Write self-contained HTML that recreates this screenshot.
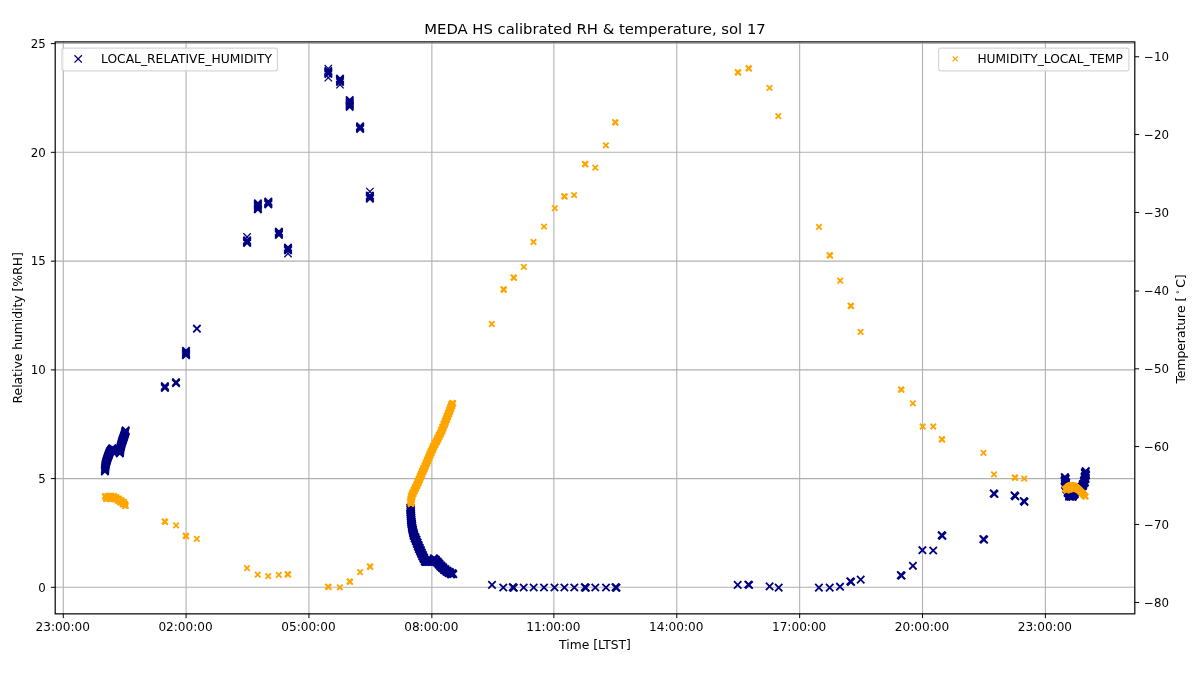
<!DOCTYPE html>
<html lang="en">
<head>
<meta charset="utf-8">
<title>MEDA HS calibrated RH &amp; temperature, sol 17</title>
<style>
html,body{margin:0;padding:0;background:#fff;}
body{width:1200px;height:675px;overflow:hidden;}
svg{display:block;}
.t{font-family:"DejaVu Sans","Liberation Sans",sans-serif;font-size:12.33px;fill:#000;}
.k{font-family:"DejaVu Sans","Liberation Sans",sans-serif;font-size:11.8px;fill:#000;}
.kx{font-size:12.1px;}
.tt{font-family:"DejaVu Sans","Liberation Sans",sans-serif;font-size:14.80px;fill:#000;}
</style>
</head>
<body>
<svg width="1200" height="675" viewBox="0 0 1200 675">
<rect width="1200" height="675" fill="#fff"/>
<path d="M63.27 41.90V613.85M186.08 41.90V613.85M308.93 41.90V613.85M431.86 41.90V613.85M553.86 41.90V613.85M676.77 41.90V613.85M799.66 41.90V613.85M922.53 41.90V613.85M1045.39 41.90V613.85M55.20 587.32H1134.80M55.20 478.60H1134.80M55.20 369.91H1134.80M55.20 261.16H1134.80M55.20 152.32H1134.80M55.20 43.57H1134.80" stroke="#b0b0b0" stroke-width="1.08" fill="none"/>
<path d="M63.27 613.85v4.32M186.08 613.85v4.32M308.93 613.85v4.32M431.86 613.85v4.32M553.86 613.85v4.32M676.77 613.85v4.32M799.66 613.85v4.32M922.53 613.85v4.32M1045.39 613.85v4.32M55.20 587.32h-4.32M55.20 478.60h-4.32M55.20 369.91h-4.32M55.20 261.16h-4.32M55.20 152.32h-4.32M55.20 43.57h-4.32M1134.80 56.76h4.32M1134.80 134.54h4.32M1134.80 212.44h4.32M1134.80 291.02h4.32M1134.80 368.84h4.32M1134.80 446.58h4.32M1134.80 524.44h4.32M1134.80 602.44h4.32" stroke="#000" stroke-width="1.0" fill="none"/>
<g stroke="#000080" stroke-width="1.25" fill="none">
<path d="M243.40 233.30l7.40 7.40m-7.40 0l7.40 -7.40"/>
<path d="M284.30 249.90l7.40 7.40m-7.40 0l7.40 -7.40"/>
<path d="M324.60 65.00l7.40 7.40m-7.40 0l7.40 -7.40"/>
<path d="M324.60 74.00l7.40 7.40m-7.40 0l7.40 -7.40"/>
<path d="M336.30 81.00l7.40 7.40m-7.40 0l7.40 -7.40"/>
<path d="M366.20 187.90l7.40 7.40m-7.40 0l7.40 -7.40"/>
</g>
<g stroke="#000080" stroke-width="1.80" fill="none">
<path d="M101.20 467.70l7.40 7.40m-7.40 0l7.40 -7.40"/>
<path d="M101.28 466.92l7.40 7.40m-7.40 0l7.40 -7.40"/>
<path d="M101.36 466.14l7.40 7.40m-7.40 0l7.40 -7.40"/>
<path d="M101.43 465.37l7.40 7.40m-7.40 0l7.40 -7.40"/>
<path d="M101.51 464.59l7.40 7.40m-7.40 0l7.40 -7.40"/>
<path d="M101.59 463.81l7.40 7.40m-7.40 0l7.40 -7.40"/>
<path d="M101.67 463.03l7.40 7.40m-7.40 0l7.40 -7.40"/>
<path d="M101.74 462.26l7.40 7.40m-7.40 0l7.40 -7.40"/>
<path d="M101.82 461.48l7.40 7.40m-7.40 0l7.40 -7.40"/>
<path d="M101.90 460.70l7.40 7.40m-7.40 0l7.40 -7.40"/>
<path d="M102.13 459.88l7.40 7.40m-7.40 0l7.40 -7.40"/>
<path d="M102.37 459.07l7.40 7.40m-7.40 0l7.40 -7.40"/>
<path d="M102.60 458.25l7.40 7.40m-7.40 0l7.40 -7.40"/>
<path d="M102.83 457.43l7.40 7.40m-7.40 0l7.40 -7.40"/>
<path d="M103.07 456.62l7.40 7.40m-7.40 0l7.40 -7.40"/>
<path d="M103.30 455.80l7.40 7.40m-7.40 0l7.40 -7.40"/>
<path d="M103.58 455.02l7.40 7.40m-7.40 0l7.40 -7.40"/>
<path d="M103.86 454.24l7.40 7.40m-7.40 0l7.40 -7.40"/>
<path d="M104.14 453.46l7.40 7.40m-7.40 0l7.40 -7.40"/>
<path d="M104.42 452.68l7.40 7.40m-7.40 0l7.40 -7.40"/>
<path d="M104.70 451.90l7.40 7.40m-7.40 0l7.40 -7.40"/>
<path d="M105.00 451.13l7.40 7.40m-7.40 0l7.40 -7.40"/>
<path d="M105.30 450.37l7.40 7.40m-7.40 0l7.40 -7.40"/>
<path d="M105.60 449.60l7.40 7.40m-7.40 0l7.40 -7.40"/>
<path d="M105.90 448.83l7.40 7.40m-7.40 0l7.40 -7.40"/>
<path d="M106.20 448.07l7.40 7.40m-7.40 0l7.40 -7.40"/>
<path d="M106.50 447.30l7.40 7.40m-7.40 0l7.40 -7.40"/>
<path d="M107.03 446.63l7.40 7.40m-7.40 0l7.40 -7.40"/>
<path d="M107.55 445.95l7.40 7.40m-7.40 0l7.40 -7.40"/>
<path d="M108.08 445.28l7.40 7.40m-7.40 0l7.40 -7.40"/>
<path d="M108.60 444.60l7.40 7.40m-7.40 0l7.40 -7.40"/>
<path d="M116.10 449.70l7.40 7.40m-7.40 0l7.40 -7.40"/>
<path d="M116.19 448.93l7.40 7.40m-7.40 0l7.40 -7.40"/>
<path d="M116.27 448.16l7.40 7.40m-7.40 0l7.40 -7.40"/>
<path d="M116.36 447.39l7.40 7.40m-7.40 0l7.40 -7.40"/>
<path d="M116.44 446.61l7.40 7.40m-7.40 0l7.40 -7.40"/>
<path d="M116.53 445.84l7.40 7.40m-7.40 0l7.40 -7.40"/>
<path d="M116.61 445.07l7.40 7.40m-7.40 0l7.40 -7.40"/>
<path d="M116.70 444.30l7.40 7.40m-7.40 0l7.40 -7.40"/>
<path d="M116.90 443.55l7.40 7.40m-7.40 0l7.40 -7.40"/>
<path d="M117.10 442.80l7.40 7.40m-7.40 0l7.40 -7.40"/>
<path d="M117.30 442.05l7.40 7.40m-7.40 0l7.40 -7.40"/>
<path d="M117.50 441.30l7.40 7.40m-7.40 0l7.40 -7.40"/>
<path d="M117.70 440.55l7.40 7.40m-7.40 0l7.40 -7.40"/>
<path d="M117.90 439.80l7.40 7.40m-7.40 0l7.40 -7.40"/>
<path d="M118.10 439.05l7.40 7.40m-7.40 0l7.40 -7.40"/>
<path d="M118.30 438.30l7.40 7.40m-7.40 0l7.40 -7.40"/>
<path d="M118.55 437.60l7.40 7.40m-7.40 0l7.40 -7.40"/>
<path d="M118.80 436.90l7.40 7.40m-7.40 0l7.40 -7.40"/>
<path d="M119.05 436.20l7.40 7.40m-7.40 0l7.40 -7.40"/>
<path d="M119.30 435.50l7.40 7.40m-7.40 0l7.40 -7.40"/>
<path d="M119.55 434.80l7.40 7.40m-7.40 0l7.40 -7.40"/>
<path d="M119.80 434.10l7.40 7.40m-7.40 0l7.40 -7.40"/>
<path d="M120.06 433.34l7.40 7.40m-7.40 0l7.40 -7.40"/>
<path d="M120.32 432.58l7.40 7.40m-7.40 0l7.40 -7.40"/>
<path d="M120.58 431.82l7.40 7.40m-7.40 0l7.40 -7.40"/>
<path d="M120.84 431.06l7.40 7.40m-7.40 0l7.40 -7.40"/>
<path d="M121.10 430.30l7.40 7.40m-7.40 0l7.40 -7.40"/>
<path d="M121.28 429.58l7.40 7.40m-7.40 0l7.40 -7.40"/>
<path d="M121.46 428.86l7.40 7.40m-7.40 0l7.40 -7.40"/>
<path d="M121.64 428.14l7.40 7.40m-7.40 0l7.40 -7.40"/>
<path d="M121.82 427.42l7.40 7.40m-7.40 0l7.40 -7.40"/>
<path d="M122.00 426.70l7.40 7.40m-7.40 0l7.40 -7.40"/>
<path d="M108.60 444.80l7.40 7.40m-7.40 0l7.40 -7.40"/>
<path d="M109.53 445.30l7.40 7.40m-7.40 0l7.40 -7.40"/>
<path d="M110.45 445.80l7.40 7.40m-7.40 0l7.40 -7.40"/>
<path d="M111.38 446.30l7.40 7.40m-7.40 0l7.40 -7.40"/>
<path d="M112.30 446.80l7.40 7.40m-7.40 0l7.40 -7.40"/>
<path d="M113.25 447.18l7.40 7.40m-7.40 0l7.40 -7.40"/>
<path d="M114.20 447.55l7.40 7.40m-7.40 0l7.40 -7.40"/>
<path d="M115.15 447.93l7.40 7.40m-7.40 0l7.40 -7.40"/>
<path d="M116.10 448.30l7.40 7.40m-7.40 0l7.40 -7.40"/>
<path d="M161.20 382.50l7.40 7.40m-7.40 0l7.40 -7.40"/>
<path d="M161.20 383.40l7.40 7.40m-7.40 0l7.40 -7.40"/>
<path d="M161.20 384.30l7.40 7.40m-7.40 0l7.40 -7.40"/>
<path d="M172.30 378.50l7.40 7.40m-7.40 0l7.40 -7.40"/>
<path d="M172.30 379.50l7.40 7.40m-7.40 0l7.40 -7.40"/>
<path d="M182.30 347.10l7.40 7.40m-7.40 0l7.40 -7.40"/>
<path d="M182.30 348.30l7.40 7.40m-7.40 0l7.40 -7.40"/>
<path d="M182.30 349.50l7.40 7.40m-7.40 0l7.40 -7.40"/>
<path d="M182.30 350.70l7.40 7.40m-7.40 0l7.40 -7.40"/>
<path d="M182.30 351.50l7.40 7.40m-7.40 0l7.40 -7.40"/>
<path d="M193.20 325.00l7.40 7.40m-7.40 0l7.40 -7.40"/>
<path d="M243.40 236.60l7.40 7.40m-7.40 0l7.40 -7.40"/>
<path d="M243.40 237.50l7.40 7.40m-7.40 0l7.40 -7.40"/>
<path d="M243.40 238.40l7.40 7.40m-7.40 0l7.40 -7.40"/>
<path d="M243.40 239.30l7.40 7.40m-7.40 0l7.40 -7.40"/>
<path d="M254.20 199.60l7.40 7.40m-7.40 0l7.40 -7.40"/>
<path d="M254.20 200.80l7.40 7.40m-7.40 0l7.40 -7.40"/>
<path d="M254.20 202.00l7.40 7.40m-7.40 0l7.40 -7.40"/>
<path d="M254.20 203.20l7.40 7.40m-7.40 0l7.40 -7.40"/>
<path d="M254.20 204.40l7.40 7.40m-7.40 0l7.40 -7.40"/>
<path d="M254.20 205.60l7.40 7.40m-7.40 0l7.40 -7.40"/>
<path d="M264.60 197.80l7.40 7.40m-7.40 0l7.40 -7.40"/>
<path d="M264.60 198.70l7.40 7.40m-7.40 0l7.40 -7.40"/>
<path d="M264.60 199.70l7.40 7.40m-7.40 0l7.40 -7.40"/>
<path d="M264.60 200.60l7.40 7.40m-7.40 0l7.40 -7.40"/>
<path d="M275.20 228.00l7.40 7.40m-7.40 0l7.40 -7.40"/>
<path d="M275.20 229.10l7.40 7.40m-7.40 0l7.40 -7.40"/>
<path d="M275.20 230.10l7.40 7.40m-7.40 0l7.40 -7.40"/>
<path d="M275.20 231.20l7.40 7.40m-7.40 0l7.40 -7.40"/>
<path d="M284.30 243.80l7.40 7.40m-7.40 0l7.40 -7.40"/>
<path d="M284.30 244.80l7.40 7.40m-7.40 0l7.40 -7.40"/>
<path d="M284.30 245.80l7.40 7.40m-7.40 0l7.40 -7.40"/>
<path d="M284.30 246.80l7.40 7.40m-7.40 0l7.40 -7.40"/>
<path d="M324.60 67.30l7.40 7.40m-7.40 0l7.40 -7.40"/>
<path d="M324.60 68.30l7.40 7.40m-7.40 0l7.40 -7.40"/>
<path d="M324.60 69.30l7.40 7.40m-7.40 0l7.40 -7.40"/>
<path d="M324.60 70.30l7.40 7.40m-7.40 0l7.40 -7.40"/>
<path d="M336.30 75.00l7.40 7.40m-7.40 0l7.40 -7.40"/>
<path d="M336.30 76.10l7.40 7.40m-7.40 0l7.40 -7.40"/>
<path d="M336.30 77.20l7.40 7.40m-7.40 0l7.40 -7.40"/>
<path d="M336.30 78.30l7.40 7.40m-7.40 0l7.40 -7.40"/>
<path d="M346.00 96.30l7.40 7.40m-7.40 0l7.40 -7.40"/>
<path d="M346.00 97.40l7.40 7.40m-7.40 0l7.40 -7.40"/>
<path d="M346.00 98.60l7.40 7.40m-7.40 0l7.40 -7.40"/>
<path d="M346.00 99.70l7.40 7.40m-7.40 0l7.40 -7.40"/>
<path d="M346.00 100.80l7.40 7.40m-7.40 0l7.40 -7.40"/>
<path d="M346.00 102.00l7.40 7.40m-7.40 0l7.40 -7.40"/>
<path d="M346.00 103.10l7.40 7.40m-7.40 0l7.40 -7.40"/>
<path d="M356.40 122.60l7.40 7.40m-7.40 0l7.40 -7.40"/>
<path d="M356.40 123.50l7.40 7.40m-7.40 0l7.40 -7.40"/>
<path d="M356.40 124.40l7.40 7.40m-7.40 0l7.40 -7.40"/>
<path d="M356.40 125.30l7.40 7.40m-7.40 0l7.40 -7.40"/>
<path d="M366.20 191.80l7.40 7.40m-7.40 0l7.40 -7.40"/>
<path d="M366.20 192.90l7.40 7.40m-7.40 0l7.40 -7.40"/>
<path d="M366.20 194.00l7.40 7.40m-7.40 0l7.40 -7.40"/>
<path d="M366.20 195.00l7.40 7.40m-7.40 0l7.40 -7.40"/>
<path d="M406.60 503.80l7.40 7.40m-7.40 0l7.40 -7.40"/>
<path d="M406.92 504.52l7.40 7.40m-7.40 0l7.40 -7.40"/>
<path d="M407.24 505.24l7.40 7.40m-7.40 0l7.40 -7.40"/>
<path d="M406.67 505.97l7.40 7.40m-7.40 0l7.40 -7.40"/>
<path d="M406.99 506.69l7.40 7.40m-7.40 0l7.40 -7.40"/>
<path d="M407.31 507.41l7.40 7.40m-7.40 0l7.40 -7.40"/>
<path d="M406.73 508.13l7.40 7.40m-7.40 0l7.40 -7.40"/>
<path d="M407.06 508.86l7.40 7.40m-7.40 0l7.40 -7.40"/>
<path d="M407.38 509.58l7.40 7.40m-7.40 0l7.40 -7.40"/>
<path d="M406.80 510.30l7.40 7.40m-7.40 0l7.40 -7.40"/>
<path d="M407.15 511.00l7.40 7.40m-7.40 0l7.40 -7.40"/>
<path d="M407.50 511.70l7.40 7.40m-7.40 0l7.40 -7.40"/>
<path d="M406.95 512.40l7.40 7.40m-7.40 0l7.40 -7.40"/>
<path d="M407.30 513.10l7.40 7.40m-7.40 0l7.40 -7.40"/>
<path d="M407.65 513.80l7.40 7.40m-7.40 0l7.40 -7.40"/>
<path d="M407.10 514.50l7.40 7.40m-7.40 0l7.40 -7.40"/>
<path d="M407.45 515.20l7.40 7.40m-7.40 0l7.40 -7.40"/>
<path d="M407.80 515.90l7.40 7.40m-7.40 0l7.40 -7.40"/>
<path d="M407.25 516.60l7.40 7.40m-7.40 0l7.40 -7.40"/>
<path d="M407.60 517.30l7.40 7.40m-7.40 0l7.40 -7.40"/>
<path d="M408.00 518.00l7.40 7.40m-7.40 0l7.40 -7.40"/>
<path d="M407.50 518.70l7.40 7.40m-7.40 0l7.40 -7.40"/>
<path d="M407.90 519.40l7.40 7.40m-7.40 0l7.40 -7.40"/>
<path d="M408.30 520.10l7.40 7.40m-7.40 0l7.40 -7.40"/>
<path d="M407.80 520.80l7.40 7.40m-7.40 0l7.40 -7.40"/>
<path d="M408.20 521.50l7.40 7.40m-7.40 0l7.40 -7.40"/>
<path d="M408.60 522.20l7.40 7.40m-7.40 0l7.40 -7.40"/>
<path d="M408.10 522.90l7.40 7.40m-7.40 0l7.40 -7.40"/>
<path d="M408.50 523.60l7.40 7.40m-7.40 0l7.40 -7.40"/>
<path d="M408.90 524.30l7.40 7.40m-7.40 0l7.40 -7.40"/>
<path d="M408.45 525.00l7.40 7.40m-7.40 0l7.40 -7.40"/>
<path d="M408.90 525.70l7.40 7.40m-7.40 0l7.40 -7.40"/>
<path d="M409.35 526.40l7.40 7.40m-7.40 0l7.40 -7.40"/>
<path d="M408.90 527.10l7.40 7.40m-7.40 0l7.40 -7.40"/>
<path d="M409.35 527.80l7.40 7.40m-7.40 0l7.40 -7.40"/>
<path d="M409.80 528.50l7.40 7.40m-7.40 0l7.40 -7.40"/>
<path d="M409.35 529.20l7.40 7.40m-7.40 0l7.40 -7.40"/>
<path d="M409.80 529.90l7.40 7.40m-7.40 0l7.40 -7.40"/>
<path d="M410.25 530.60l7.40 7.40m-7.40 0l7.40 -7.40"/>
<path d="M410.40 531.30l7.40 7.40m-7.40 0l7.40 -7.40"/>
<path d="M409.87 531.97l7.40 7.40m-7.40 0l7.40 -7.40"/>
<path d="M410.63 532.63l7.40 7.40m-7.40 0l7.40 -7.40"/>
<path d="M411.70 533.30l7.40 7.40m-7.40 0l7.40 -7.40"/>
<path d="M411.47 533.97l7.40 7.40m-7.40 0l7.40 -7.40"/>
<path d="M410.93 534.63l7.40 7.40m-7.40 0l7.40 -7.40"/>
<path d="M411.70 535.30l7.40 7.40m-7.40 0l7.40 -7.40"/>
<path d="M412.77 535.97l7.40 7.40m-7.40 0l7.40 -7.40"/>
<path d="M412.53 536.63l7.40 7.40m-7.40 0l7.40 -7.40"/>
<path d="M412.00 537.30l7.40 7.40m-7.40 0l7.40 -7.40"/>
<path d="M412.77 537.97l7.40 7.40m-7.40 0l7.40 -7.40"/>
<path d="M413.83 538.63l7.40 7.40m-7.40 0l7.40 -7.40"/>
<path d="M413.60 539.30l7.40 7.40m-7.40 0l7.40 -7.40"/>
<path d="M413.07 539.97l7.40 7.40m-7.40 0l7.40 -7.40"/>
<path d="M413.83 540.63l7.40 7.40m-7.40 0l7.40 -7.40"/>
<path d="M414.90 541.30l7.40 7.40m-7.40 0l7.40 -7.40"/>
<path d="M414.67 541.97l7.40 7.40m-7.40 0l7.40 -7.40"/>
<path d="M414.13 542.63l7.40 7.40m-7.40 0l7.40 -7.40"/>
<path d="M414.90 543.30l7.40 7.40m-7.40 0l7.40 -7.40"/>
<path d="M415.97 543.91l7.40 7.40m-7.40 0l7.40 -7.40"/>
<path d="M415.73 544.52l7.40 7.40m-7.40 0l7.40 -7.40"/>
<path d="M415.20 545.13l7.40 7.40m-7.40 0l7.40 -7.40"/>
<path d="M415.97 545.74l7.40 7.40m-7.40 0l7.40 -7.40"/>
<path d="M417.03 546.36l7.40 7.40m-7.40 0l7.40 -7.40"/>
<path d="M416.80 546.97l7.40 7.40m-7.40 0l7.40 -7.40"/>
<path d="M416.27 547.58l7.40 7.40m-7.40 0l7.40 -7.40"/>
<path d="M417.03 548.19l7.40 7.40m-7.40 0l7.40 -7.40"/>
<path d="M418.10 548.80l7.40 7.40m-7.40 0l7.40 -7.40"/>
<path d="M417.89 549.43l7.40 7.40m-7.40 0l7.40 -7.40"/>
<path d="M417.38 550.05l7.40 7.40m-7.40 0l7.40 -7.40"/>
<path d="M418.16 550.68l7.40 7.40m-7.40 0l7.40 -7.40"/>
<path d="M419.25 551.30l7.40 7.40m-7.40 0l7.40 -7.40"/>
<path d="M419.04 551.93l7.40 7.40m-7.40 0l7.40 -7.40"/>
<path d="M418.53 552.55l7.40 7.40m-7.40 0l7.40 -7.40"/>
<path d="M419.31 553.18l7.40 7.40m-7.40 0l7.40 -7.40"/>
<path d="M420.40 553.80l7.40 7.40m-7.40 0l7.40 -7.40"/>
<path d="M420.23 554.44l7.40 7.40m-7.40 0l7.40 -7.40"/>
<path d="M419.76 555.09l7.40 7.40m-7.40 0l7.40 -7.40"/>
<path d="M420.59 555.73l7.40 7.40m-7.40 0l7.40 -7.40"/>
<path d="M421.71 556.37l7.40 7.40m-7.40 0l7.40 -7.40"/>
<path d="M421.54 557.01l7.40 7.40m-7.40 0l7.40 -7.40"/>
<path d="M421.07 557.66l7.40 7.40m-7.40 0l7.40 -7.40"/>
<path d="M421.90 558.30l7.40 7.40m-7.40 0l7.40 -7.40"/>
<path d="M430.10 554.60l7.40 7.40m-7.40 0l7.40 -7.40"/>
<path d="M430.60 555.13l7.40 7.40m-7.40 0l7.40 -7.40"/>
<path d="M431.10 556.57l7.40 7.40m-7.40 0l7.40 -7.40"/>
<path d="M431.60 556.60l7.40 7.40m-7.40 0l7.40 -7.40"/>
<path d="M432.10 555.83l7.40 7.40m-7.40 0l7.40 -7.40"/>
<path d="M432.60 557.27l7.40 7.40m-7.40 0l7.40 -7.40"/>
<path d="M433.10 558.70l7.40 7.40m-7.40 0l7.40 -7.40"/>
<path d="M433.54 558.70l7.40 7.40m-7.40 0l7.40 -7.40"/>
<path d="M433.98 557.90l7.40 7.40m-7.40 0l7.40 -7.40"/>
<path d="M434.41 559.30l7.40 7.40m-7.40 0l7.40 -7.40"/>
<path d="M434.85 560.70l7.40 7.40m-7.40 0l7.40 -7.40"/>
<path d="M435.29 560.70l7.40 7.40m-7.40 0l7.40 -7.40"/>
<path d="M435.73 559.90l7.40 7.40m-7.40 0l7.40 -7.40"/>
<path d="M436.16 561.30l7.40 7.40m-7.40 0l7.40 -7.40"/>
<path d="M436.60 562.70l7.40 7.40m-7.40 0l7.40 -7.40"/>
<path d="M437.09 562.66l7.40 7.40m-7.40 0l7.40 -7.40"/>
<path d="M437.58 561.83l7.40 7.40m-7.40 0l7.40 -7.40"/>
<path d="M438.06 563.19l7.40 7.40m-7.40 0l7.40 -7.40"/>
<path d="M438.55 564.55l7.40 7.40m-7.40 0l7.40 -7.40"/>
<path d="M439.04 564.51l7.40 7.40m-7.40 0l7.40 -7.40"/>
<path d="M439.53 563.68l7.40 7.40m-7.40 0l7.40 -7.40"/>
<path d="M440.01 565.04l7.40 7.40m-7.40 0l7.40 -7.40"/>
<path d="M440.50 566.40l7.40 7.40m-7.40 0l7.40 -7.40"/>
<path d="M441.04 566.30l7.40 7.40m-7.40 0l7.40 -7.40"/>
<path d="M441.59 565.40l7.40 7.40m-7.40 0l7.40 -7.40"/>
<path d="M442.13 566.70l7.40 7.40m-7.40 0l7.40 -7.40"/>
<path d="M442.67 568.00l7.40 7.40m-7.40 0l7.40 -7.40"/>
<path d="M443.21 567.90l7.40 7.40m-7.40 0l7.40 -7.40"/>
<path d="M443.76 567.00l7.40 7.40m-7.40 0l7.40 -7.40"/>
<path d="M444.30 568.30l7.40 7.40m-7.40 0l7.40 -7.40"/>
<path d="M444.90 569.48l7.40 7.40m-7.40 0l7.40 -7.40"/>
<path d="M445.50 569.26l7.40 7.40m-7.40 0l7.40 -7.40"/>
<path d="M446.10 568.24l7.40 7.40m-7.40 0l7.40 -7.40"/>
<path d="M446.70 569.42l7.40 7.40m-7.40 0l7.40 -7.40"/>
<path d="M447.30 570.60l7.40 7.40m-7.40 0l7.40 -7.40"/>
<path d="M448.07 570.37l7.40 7.40m-7.40 0l7.40 -7.40"/>
<path d="M448.83 569.33l7.40 7.40m-7.40 0l7.40 -7.40"/>
<path d="M449.60 570.50l7.40 7.40m-7.40 0l7.40 -7.40"/>
<path d="M422.30 558.10l7.40 7.40m-7.40 0l7.40 -7.40"/>
<path d="M423.30 558.10l7.40 7.40m-7.40 0l7.40 -7.40"/>
<path d="M424.30 558.10l7.40 7.40m-7.40 0l7.40 -7.40"/>
<path d="M425.30 558.10l7.40 7.40m-7.40 0l7.40 -7.40"/>
<path d="M426.30 558.10l7.40 7.40m-7.40 0l7.40 -7.40"/>
<path d="M427.25 557.65l7.40 7.40m-7.40 0l7.40 -7.40"/>
<path d="M428.20 557.20l7.40 7.40m-7.40 0l7.40 -7.40"/>
<path d="M429.15 556.75l7.40 7.40m-7.40 0l7.40 -7.40"/>
<path d="M430.10 556.30l7.40 7.40m-7.40 0l7.40 -7.40"/>
<path d="M488.30 581.20l7.40 7.40m-7.40 0l7.40 -7.40"/>
<path d="M499.60 583.80l7.40 7.40m-7.40 0l7.40 -7.40"/>
<path d="M509.60 583.80l7.40 7.40m-7.40 0l7.40 -7.40"/>
<path d="M520.00 583.80l7.40 7.40m-7.40 0l7.40 -7.40"/>
<path d="M530.00 583.80l7.40 7.40m-7.40 0l7.40 -7.40"/>
<path d="M540.30 583.80l7.40 7.40m-7.40 0l7.40 -7.40"/>
<path d="M550.80 583.80l7.40 7.40m-7.40 0l7.40 -7.40"/>
<path d="M560.70 583.80l7.40 7.40m-7.40 0l7.40 -7.40"/>
<path d="M570.60 583.80l7.40 7.40m-7.40 0l7.40 -7.40"/>
<path d="M581.60 583.80l7.40 7.40m-7.40 0l7.40 -7.40"/>
<path d="M591.60 583.80l7.40 7.40m-7.40 0l7.40 -7.40"/>
<path d="M602.30 583.80l7.40 7.40m-7.40 0l7.40 -7.40"/>
<path d="M612.30 583.80l7.40 7.40m-7.40 0l7.40 -7.40"/>
<path d="M509.10 583.50l7.40 7.40m-7.40 0l7.40 -7.40"/>
<path d="M510.10 584.10l7.40 7.40m-7.40 0l7.40 -7.40"/>
<path d="M581.10 583.50l7.40 7.40m-7.40 0l7.40 -7.40"/>
<path d="M582.10 584.10l7.40 7.40m-7.40 0l7.40 -7.40"/>
<path d="M611.80 583.50l7.40 7.40m-7.40 0l7.40 -7.40"/>
<path d="M612.80 584.10l7.40 7.40m-7.40 0l7.40 -7.40"/>
<path d="M734.00 581.20l7.40 7.40m-7.40 0l7.40 -7.40"/>
<path d="M744.60 580.80l7.40 7.40m-7.40 0l7.40 -7.40"/>
<path d="M745.40 581.30l7.40 7.40m-7.40 0l7.40 -7.40"/>
<path d="M765.90 582.70l7.40 7.40m-7.40 0l7.40 -7.40"/>
<path d="M775.00 583.90l7.40 7.40m-7.40 0l7.40 -7.40"/>
<path d="M815.20 583.90l7.40 7.40m-7.40 0l7.40 -7.40"/>
<path d="M826.00 583.90l7.40 7.40m-7.40 0l7.40 -7.40"/>
<path d="M836.30 583.00l7.40 7.40m-7.40 0l7.40 -7.40"/>
<path d="M846.60 577.60l7.40 7.40m-7.40 0l7.40 -7.40"/>
<path d="M847.40 578.20l7.40 7.40m-7.40 0l7.40 -7.40"/>
<path d="M857.00 575.90l7.40 7.40m-7.40 0l7.40 -7.40"/>
<path d="M897.10 571.40l7.40 7.40m-7.40 0l7.40 -7.40"/>
<path d="M897.90 572.00l7.40 7.40m-7.40 0l7.40 -7.40"/>
<path d="M909.20 562.10l7.40 7.40m-7.40 0l7.40 -7.40"/>
<path d="M918.70 546.50l7.40 7.40m-7.40 0l7.40 -7.40"/>
<path d="M929.50 546.80l7.40 7.40m-7.40 0l7.40 -7.40"/>
<path d="M937.90 531.50l7.40 7.40m-7.40 0l7.40 -7.40"/>
<path d="M938.70 532.10l7.40 7.40m-7.40 0l7.40 -7.40"/>
<path d="M979.60 535.40l7.40 7.40m-7.40 0l7.40 -7.40"/>
<path d="M980.40 536.00l7.40 7.40m-7.40 0l7.40 -7.40"/>
<path d="M990.00 489.70l7.40 7.40m-7.40 0l7.40 -7.40"/>
<path d="M990.80 490.30l7.40 7.40m-7.40 0l7.40 -7.40"/>
<path d="M1010.80 491.70l7.40 7.40m-7.40 0l7.40 -7.40"/>
<path d="M1011.60 492.70l7.40 7.40m-7.40 0l7.40 -7.40"/>
<path d="M1020.00 497.30l7.40 7.40m-7.40 0l7.40 -7.40"/>
<path d="M1020.80 498.10l7.40 7.40m-7.40 0l7.40 -7.40"/>
<path d="M1061.20 473.30l7.40 7.40m-7.40 0l7.40 -7.40"/>
<path d="M1061.26 474.10l7.40 7.40m-7.40 0l7.40 -7.40"/>
<path d="M1062.02 474.90l7.40 7.40m-7.40 0l7.40 -7.40"/>
<path d="M1061.68 475.70l7.40 7.40m-7.40 0l7.40 -7.40"/>
<path d="M1061.14 476.50l7.40 7.40m-7.40 0l7.40 -7.40"/>
<path d="M1060.80 477.30l7.40 7.40m-7.40 0l7.40 -7.40"/>
<path d="M1061.62 478.10l7.40 7.40m-7.40 0l7.40 -7.40"/>
<path d="M1062.44 478.90l7.40 7.40m-7.40 0l7.40 -7.40"/>
<path d="M1062.16 479.70l7.40 7.40m-7.40 0l7.40 -7.40"/>
<path d="M1061.68 480.50l7.40 7.40m-7.40 0l7.40 -7.40"/>
<path d="M1061.40 481.30l7.40 7.40m-7.40 0l7.40 -7.40"/>
<path d="M1062.33 482.13l7.40 7.40m-7.40 0l7.40 -7.40"/>
<path d="M1063.27 482.97l7.40 7.40m-7.40 0l7.40 -7.40"/>
<path d="M1063.10 483.80l7.40 7.40m-7.40 0l7.40 -7.40"/>
<path d="M1062.73 484.63l7.40 7.40m-7.40 0l7.40 -7.40"/>
<path d="M1062.57 485.47l7.40 7.40m-7.40 0l7.40 -7.40"/>
<path d="M1063.50 486.30l7.40 7.40m-7.40 0l7.40 -7.40"/>
<path d="M1064.49 487.03l7.40 7.40m-7.40 0l7.40 -7.40"/>
<path d="M1064.38 487.77l7.40 7.40m-7.40 0l7.40 -7.40"/>
<path d="M1064.07 488.50l7.40 7.40m-7.40 0l7.40 -7.40"/>
<path d="M1063.96 489.23l7.40 7.40m-7.40 0l7.40 -7.40"/>
<path d="M1064.94 489.97l7.40 7.40m-7.40 0l7.40 -7.40"/>
<path d="M1065.93 490.70l7.40 7.40m-7.40 0l7.40 -7.40"/>
<path d="M1065.82 491.43l7.40 7.40m-7.40 0l7.40 -7.40"/>
<path d="M1065.51 492.17l7.40 7.40m-7.40 0l7.40 -7.40"/>
<path d="M1065.40 492.90l7.40 7.40m-7.40 0l7.40 -7.40"/>
<path d="M1066.90 492.90l7.40 7.40m-7.40 0l7.40 -7.40"/>
<path d="M1068.40 492.90l7.40 7.40m-7.40 0l7.40 -7.40"/>
<path d="M1068.80 492.90l7.40 7.40m-7.40 0l7.40 -7.40"/>
<path d="M1069.00 492.90l7.40 7.40m-7.40 0l7.40 -7.40"/>
<path d="M1068.93 492.18l7.40 7.40m-7.40 0l7.40 -7.40"/>
<path d="M1069.97 491.47l7.40 7.40m-7.40 0l7.40 -7.40"/>
<path d="M1071.00 490.75l7.40 7.40m-7.40 0l7.40 -7.40"/>
<path d="M1070.93 490.03l7.40 7.40m-7.40 0l7.40 -7.40"/>
<path d="M1070.67 489.32l7.40 7.40m-7.40 0l7.40 -7.40"/>
<path d="M1070.60 488.60l7.40 7.40m-7.40 0l7.40 -7.40"/>
<path d="M1071.90 488.04l7.40 7.40m-7.40 0l7.40 -7.40"/>
<path d="M1073.20 487.48l7.40 7.40m-7.40 0l7.40 -7.40"/>
<path d="M1073.40 486.92l7.40 7.40m-7.40 0l7.40 -7.40"/>
<path d="M1073.40 486.36l7.40 7.40m-7.40 0l7.40 -7.40"/>
<path d="M1073.60 485.80l7.40 7.40m-7.40 0l7.40 -7.40"/>
<path d="M1075.00 485.36l7.40 7.40m-7.40 0l7.40 -7.40"/>
<path d="M1076.40 484.92l7.40 7.40m-7.40 0l7.40 -7.40"/>
<path d="M1076.70 484.48l7.40 7.40m-7.40 0l7.40 -7.40"/>
<path d="M1076.80 484.04l7.40 7.40m-7.40 0l7.40 -7.40"/>
<path d="M1077.10 483.60l7.40 7.40m-7.40 0l7.40 -7.40"/>
<path d="M1078.22 482.97l7.40 7.40m-7.40 0l7.40 -7.40"/>
<path d="M1079.33 482.33l7.40 7.40m-7.40 0l7.40 -7.40"/>
<path d="M1079.35 481.70l7.40 7.40m-7.40 0l7.40 -7.40"/>
<path d="M1079.17 481.07l7.40 7.40m-7.40 0l7.40 -7.40"/>
<path d="M1079.18 480.43l7.40 7.40m-7.40 0l7.40 -7.40"/>
<path d="M1080.30 479.80l7.40 7.40m-7.40 0l7.40 -7.40"/>
<path d="M1081.15 479.05l7.40 7.40m-7.40 0l7.40 -7.40"/>
<path d="M1080.90 478.30l7.40 7.40m-7.40 0l7.40 -7.40"/>
<path d="M1080.45 477.55l7.40 7.40m-7.40 0l7.40 -7.40"/>
<path d="M1080.20 476.80l7.40 7.40m-7.40 0l7.40 -7.40"/>
<path d="M1081.05 476.05l7.40 7.40m-7.40 0l7.40 -7.40"/>
<path d="M1081.90 475.30l7.40 7.40m-7.40 0l7.40 -7.40"/>
<path d="M1081.65 474.55l7.40 7.40m-7.40 0l7.40 -7.40"/>
<path d="M1081.20 473.80l7.40 7.40m-7.40 0l7.40 -7.40"/>
<path d="M1080.86 473.00l7.40 7.40m-7.40 0l7.40 -7.40"/>
<path d="M1081.63 472.20l7.40 7.40m-7.40 0l7.40 -7.40"/>
<path d="M1082.39 471.40l7.40 7.40m-7.40 0l7.40 -7.40"/>
<path d="M1082.05 470.60l7.40 7.40m-7.40 0l7.40 -7.40"/>
<path d="M1081.51 469.80l7.40 7.40m-7.40 0l7.40 -7.40"/>
<path d="M1081.18 469.00l7.40 7.40m-7.40 0l7.40 -7.40"/>
<path d="M1081.94 468.20l7.40 7.40m-7.40 0l7.40 -7.40"/>
<path d="M1082.00 467.40l7.40 7.40m-7.40 0l7.40 -7.40"/>
</g>
<g stroke="#ffa500" stroke-width="1.85" fill="none">
<path d="M102.25 493.25l5.50 5.50m-5.50 0l5.50 -5.50"/>
<path d="M102.85 494.85l5.50 5.50m-5.50 0l5.50 -5.50"/>
<path d="M103.45 496.35l5.50 5.50m-5.50 0l5.50 -5.50"/>
<path d="M104.05 494.05l5.50 5.50m-5.50 0l5.50 -5.50"/>
<path d="M104.65 495.65l5.50 5.50m-5.50 0l5.50 -5.50"/>
<path d="M105.25 493.25l5.50 5.50m-5.50 0l5.50 -5.50"/>
<path d="M105.85 494.77l5.50 5.50m-5.50 0l5.50 -5.50"/>
<path d="M106.45 496.19l5.50 5.50m-5.50 0l5.50 -5.50"/>
<path d="M107.05 493.81l5.50 5.50m-5.50 0l5.50 -5.50"/>
<path d="M107.65 495.33l5.50 5.50m-5.50 0l5.50 -5.50"/>
<path d="M108.25 492.85l5.50 5.50m-5.50 0l5.50 -5.50"/>
<path d="M108.83 494.52l5.50 5.50m-5.50 0l5.50 -5.50"/>
<path d="M109.42 496.08l5.50 5.50m-5.50 0l5.50 -5.50"/>
<path d="M110.00 493.85l5.50 5.50m-5.50 0l5.50 -5.50"/>
<path d="M110.58 495.52l5.50 5.50m-5.50 0l5.50 -5.50"/>
<path d="M111.17 493.18l5.50 5.50m-5.50 0l5.50 -5.50"/>
<path d="M111.75 494.85l5.50 5.50m-5.50 0l5.50 -5.50"/>
<path d="M112.25 496.62l5.50 5.50m-5.50 0l5.50 -5.50"/>
<path d="M112.75 494.58l5.50 5.50m-5.50 0l5.50 -5.50"/>
<path d="M113.25 496.45l5.50 5.50m-5.50 0l5.50 -5.50"/>
<path d="M113.75 494.32l5.50 5.50m-5.50 0l5.50 -5.50"/>
<path d="M114.25 496.18l5.50 5.50m-5.50 0l5.50 -5.50"/>
<path d="M114.75 497.95l5.50 5.50m-5.50 0l5.50 -5.50"/>
<path d="M115.25 495.98l5.50 5.50m-5.50 0l5.50 -5.50"/>
<path d="M115.75 497.92l5.50 5.50m-5.50 0l5.50 -5.50"/>
<path d="M116.25 495.85l5.50 5.50m-5.50 0l5.50 -5.50"/>
<path d="M116.75 497.78l5.50 5.50m-5.50 0l5.50 -5.50"/>
<path d="M117.25 499.62l5.50 5.50m-5.50 0l5.50 -5.50"/>
<path d="M117.75 497.65l5.50 5.50m-5.50 0l5.50 -5.50"/>
<path d="M118.25 499.58l5.50 5.50m-5.50 0l5.50 -5.50"/>
<path d="M118.75 497.52l5.50 5.50m-5.50 0l5.50 -5.50"/>
<path d="M119.25 499.45l5.50 5.50m-5.50 0l5.50 -5.50"/>
<path d="M119.75 501.28l5.50 5.50m-5.50 0l5.50 -5.50"/>
<path d="M120.25 499.32l5.50 5.50m-5.50 0l5.50 -5.50"/>
<path d="M120.75 501.25l5.50 5.50m-5.50 0l5.50 -5.50"/>
<path d="M121.21 499.21l5.50 5.50m-5.50 0l5.50 -5.50"/>
<path d="M121.67 501.17l5.50 5.50m-5.50 0l5.50 -5.50"/>
<path d="M122.13 503.03l5.50 5.50m-5.50 0l5.50 -5.50"/>
<path d="M122.59 501.09l5.50 5.50m-5.50 0l5.50 -5.50"/>
<path d="M123.05 503.05l5.50 5.50m-5.50 0l5.50 -5.50"/>
<path d="M161.85 518.55l5.50 5.50m-5.50 0l5.50 -5.50"/>
<path d="M162.45 519.05l5.50 5.50m-5.50 0l5.50 -5.50"/>
<path d="M173.35 522.65l5.50 5.50m-5.50 0l5.50 -5.50"/>
<path d="M182.95 532.95l5.50 5.50m-5.50 0l5.50 -5.50"/>
<path d="M183.45 533.55l5.50 5.50m-5.50 0l5.50 -5.50"/>
<path d="M194.05 536.05l5.50 5.50m-5.50 0l5.50 -5.50"/>
<path d="M244.25 565.35l5.50 5.50m-5.50 0l5.50 -5.50"/>
<path d="M254.95 571.95l5.50 5.50m-5.50 0l5.50 -5.50"/>
<path d="M265.45 573.45l5.50 5.50m-5.50 0l5.50 -5.50"/>
<path d="M276.05 572.15l5.50 5.50m-5.50 0l5.50 -5.50"/>
<path d="M284.85 571.45l5.50 5.50m-5.50 0l5.50 -5.50"/>
<path d="M285.35 571.95l5.50 5.50m-5.50 0l5.50 -5.50"/>
<path d="M325.35 583.95l5.50 5.50m-5.50 0l5.50 -5.50"/>
<path d="M325.85 584.45l5.50 5.50m-5.50 0l5.50 -5.50"/>
<path d="M337.15 584.55l5.50 5.50m-5.50 0l5.50 -5.50"/>
<path d="M346.85 578.65l5.50 5.50m-5.50 0l5.50 -5.50"/>
<path d="M347.35 579.15l5.50 5.50m-5.50 0l5.50 -5.50"/>
<path d="M357.35 569.45l5.50 5.50m-5.50 0l5.50 -5.50"/>
<path d="M367.05 563.55l5.50 5.50m-5.50 0l5.50 -5.50"/>
<path d="M367.55 564.05l5.50 5.50m-5.50 0l5.50 -5.50"/>
<path d="M408.05 501.45l5.50 5.50m-5.50 0l5.50 -5.50"/>
<path d="M408.08 500.85l5.50 5.50m-5.50 0l5.50 -5.50"/>
<path d="M409.01 500.25l5.50 5.50m-5.50 0l5.50 -5.50"/>
<path d="M407.69 499.65l5.50 5.50m-5.50 0l5.50 -5.50"/>
<path d="M408.61 499.05l5.50 5.50m-5.50 0l5.50 -5.50"/>
<path d="M407.29 498.45l5.50 5.50m-5.50 0l5.50 -5.50"/>
<path d="M408.22 497.85l5.50 5.50m-5.50 0l5.50 -5.50"/>
<path d="M409.15 497.25l5.50 5.50m-5.50 0l5.50 -5.50"/>
<path d="M407.91 496.68l5.50 5.50m-5.50 0l5.50 -5.50"/>
<path d="M408.93 496.11l5.50 5.50m-5.50 0l5.50 -5.50"/>
<path d="M407.69 495.54l5.50 5.50m-5.50 0l5.50 -5.50"/>
<path d="M408.71 494.96l5.50 5.50m-5.50 0l5.50 -5.50"/>
<path d="M409.72 494.39l5.50 5.50m-5.50 0l5.50 -5.50"/>
<path d="M408.49 493.82l5.50 5.50m-5.50 0l5.50 -5.50"/>
<path d="M409.50 493.25l5.50 5.50m-5.50 0l5.50 -5.50"/>
<path d="M408.38 492.67l5.50 5.50m-5.50 0l5.50 -5.50"/>
<path d="M409.52 492.08l5.50 5.50m-5.50 0l5.50 -5.50"/>
<path d="M410.65 491.50l5.50 5.50m-5.50 0l5.50 -5.50"/>
<path d="M409.53 490.92l5.50 5.50m-5.50 0l5.50 -5.50"/>
<path d="M410.67 490.33l5.50 5.50m-5.50 0l5.50 -5.50"/>
<path d="M409.55 489.75l5.50 5.50m-5.50 0l5.50 -5.50"/>
<path d="M410.74 489.19l5.50 5.50m-5.50 0l5.50 -5.50"/>
<path d="M411.92 488.62l5.50 5.50m-5.50 0l5.50 -5.50"/>
<path d="M410.86 488.06l5.50 5.50m-5.50 0l5.50 -5.50"/>
<path d="M412.05 487.50l5.50 5.50m-5.50 0l5.50 -5.50"/>
<path d="M410.99 486.94l5.50 5.50m-5.50 0l5.50 -5.50"/>
<path d="M412.18 486.38l5.50 5.50m-5.50 0l5.50 -5.50"/>
<path d="M413.36 485.81l5.50 5.50m-5.50 0l5.50 -5.50"/>
<path d="M412.30 485.25l5.50 5.50m-5.50 0l5.50 -5.50"/>
<path d="M413.45 484.70l5.50 5.50m-5.50 0l5.50 -5.50"/>
<path d="M412.35 484.15l5.50 5.50m-5.50 0l5.50 -5.50"/>
<path d="M413.50 483.60l5.50 5.50m-5.50 0l5.50 -5.50"/>
<path d="M414.65 483.05l5.50 5.50m-5.50 0l5.50 -5.50"/>
<path d="M413.55 482.50l5.50 5.50m-5.50 0l5.50 -5.50"/>
<path d="M414.70 481.95l5.50 5.50m-5.50 0l5.50 -5.50"/>
<path d="M413.60 481.40l5.50 5.50m-5.50 0l5.50 -5.50"/>
<path d="M414.75 480.85l5.50 5.50m-5.50 0l5.50 -5.50"/>
<path d="M415.90 480.30l5.50 5.50m-5.50 0l5.50 -5.50"/>
<path d="M414.80 479.75l5.50 5.50m-5.50 0l5.50 -5.50"/>
<path d="M415.93 479.20l5.50 5.50m-5.50 0l5.50 -5.50"/>
<path d="M414.80 478.66l5.50 5.50m-5.50 0l5.50 -5.50"/>
<path d="M415.93 478.11l5.50 5.50m-5.50 0l5.50 -5.50"/>
<path d="M417.06 477.57l5.50 5.50m-5.50 0l5.50 -5.50"/>
<path d="M415.94 477.02l5.50 5.50m-5.50 0l5.50 -5.50"/>
<path d="M417.06 476.48l5.50 5.50m-5.50 0l5.50 -5.50"/>
<path d="M415.94 475.93l5.50 5.50m-5.50 0l5.50 -5.50"/>
<path d="M417.07 475.39l5.50 5.50m-5.50 0l5.50 -5.50"/>
<path d="M418.20 474.84l5.50 5.50m-5.50 0l5.50 -5.50"/>
<path d="M417.07 474.30l5.50 5.50m-5.50 0l5.50 -5.50"/>
<path d="M418.20 473.75l5.50 5.50m-5.50 0l5.50 -5.50"/>
<path d="M417.09 473.21l5.50 5.50m-5.50 0l5.50 -5.50"/>
<path d="M418.22 472.68l5.50 5.50m-5.50 0l5.50 -5.50"/>
<path d="M419.36 472.14l5.50 5.50m-5.50 0l5.50 -5.50"/>
<path d="M418.24 471.61l5.50 5.50m-5.50 0l5.50 -5.50"/>
<path d="M419.38 471.07l5.50 5.50m-5.50 0l5.50 -5.50"/>
<path d="M418.26 470.54l5.50 5.50m-5.50 0l5.50 -5.50"/>
<path d="M419.40 470.00l5.50 5.50m-5.50 0l5.50 -5.50"/>
<path d="M420.54 469.46l5.50 5.50m-5.50 0l5.50 -5.50"/>
<path d="M419.42 468.93l5.50 5.50m-5.50 0l5.50 -5.50"/>
<path d="M420.56 468.39l5.50 5.50m-5.50 0l5.50 -5.50"/>
<path d="M419.44 467.86l5.50 5.50m-5.50 0l5.50 -5.50"/>
<path d="M420.58 467.32l5.50 5.50m-5.50 0l5.50 -5.50"/>
<path d="M421.71 466.79l5.50 5.50m-5.50 0l5.50 -5.50"/>
<path d="M420.60 466.25l5.50 5.50m-5.50 0l5.50 -5.50"/>
<path d="M421.75 465.69l5.50 5.50m-5.50 0l5.50 -5.50"/>
<path d="M420.66 465.13l5.50 5.50m-5.50 0l5.50 -5.50"/>
<path d="M421.81 464.57l5.50 5.50m-5.50 0l5.50 -5.50"/>
<path d="M422.97 464.00l5.50 5.50m-5.50 0l5.50 -5.50"/>
<path d="M421.87 463.44l5.50 5.50m-5.50 0l5.50 -5.50"/>
<path d="M423.02 462.88l5.50 5.50m-5.50 0l5.50 -5.50"/>
<path d="M421.93 462.32l5.50 5.50m-5.50 0l5.50 -5.50"/>
<path d="M423.08 461.76l5.50 5.50m-5.50 0l5.50 -5.50"/>
<path d="M424.23 461.20l5.50 5.50m-5.50 0l5.50 -5.50"/>
<path d="M423.14 460.63l5.50 5.50m-5.50 0l5.50 -5.50"/>
<path d="M424.29 460.07l5.50 5.50m-5.50 0l5.50 -5.50"/>
<path d="M423.20 459.51l5.50 5.50m-5.50 0l5.50 -5.50"/>
<path d="M424.35 458.95l5.50 5.50m-5.50 0l5.50 -5.50"/>
<path d="M425.48 458.40l5.50 5.50m-5.50 0l5.50 -5.50"/>
<path d="M424.36 457.85l5.50 5.50m-5.50 0l5.50 -5.50"/>
<path d="M425.49 457.30l5.50 5.50m-5.50 0l5.50 -5.50"/>
<path d="M424.36 456.75l5.50 5.50m-5.50 0l5.50 -5.50"/>
<path d="M425.49 456.20l5.50 5.50m-5.50 0l5.50 -5.50"/>
<path d="M426.62 455.65l5.50 5.50m-5.50 0l5.50 -5.50"/>
<path d="M425.50 455.10l5.50 5.50m-5.50 0l5.50 -5.50"/>
<path d="M426.63 454.55l5.50 5.50m-5.50 0l5.50 -5.50"/>
<path d="M425.51 454.00l5.50 5.50m-5.50 0l5.50 -5.50"/>
<path d="M426.64 453.45l5.50 5.50m-5.50 0l5.50 -5.50"/>
<path d="M427.76 452.90l5.50 5.50m-5.50 0l5.50 -5.50"/>
<path d="M426.64 452.35l5.50 5.50m-5.50 0l5.50 -5.50"/>
<path d="M427.77 451.80l5.50 5.50m-5.50 0l5.50 -5.50"/>
<path d="M426.65 451.25l5.50 5.50m-5.50 0l5.50 -5.50"/>
<path d="M427.80 450.70l5.50 5.50m-5.50 0l5.50 -5.50"/>
<path d="M428.94 450.16l5.50 5.50m-5.50 0l5.50 -5.50"/>
<path d="M427.84 449.61l5.50 5.50m-5.50 0l5.50 -5.50"/>
<path d="M428.98 449.07l5.50 5.50m-5.50 0l5.50 -5.50"/>
<path d="M427.88 448.52l5.50 5.50m-5.50 0l5.50 -5.50"/>
<path d="M429.03 447.97l5.50 5.50m-5.50 0l5.50 -5.50"/>
<path d="M430.17 447.43l5.50 5.50m-5.50 0l5.50 -5.50"/>
<path d="M429.07 446.88l5.50 5.50m-5.50 0l5.50 -5.50"/>
<path d="M430.22 446.33l5.50 5.50m-5.50 0l5.50 -5.50"/>
<path d="M429.11 445.79l5.50 5.50m-5.50 0l5.50 -5.50"/>
<path d="M430.26 445.24l5.50 5.50m-5.50 0l5.50 -5.50"/>
<path d="M431.40 444.70l5.50 5.50m-5.50 0l5.50 -5.50"/>
<path d="M430.30 444.15l5.50 5.50m-5.50 0l5.50 -5.50"/>
<path d="M431.48 443.62l5.50 5.50m-5.50 0l5.50 -5.50"/>
<path d="M430.41 443.09l5.50 5.50m-5.50 0l5.50 -5.50"/>
<path d="M431.59 442.56l5.50 5.50m-5.50 0l5.50 -5.50"/>
<path d="M432.76 442.04l5.50 5.50m-5.50 0l5.50 -5.50"/>
<path d="M431.69 441.51l5.50 5.50m-5.50 0l5.50 -5.50"/>
<path d="M432.87 440.98l5.50 5.50m-5.50 0l5.50 -5.50"/>
<path d="M431.80 440.45l5.50 5.50m-5.50 0l5.50 -5.50"/>
<path d="M432.98 439.92l5.50 5.50m-5.50 0l5.50 -5.50"/>
<path d="M434.16 439.39l5.50 5.50m-5.50 0l5.50 -5.50"/>
<path d="M433.09 438.86l5.50 5.50m-5.50 0l5.50 -5.50"/>
<path d="M434.26 438.34l5.50 5.50m-5.50 0l5.50 -5.50"/>
<path d="M433.19 437.81l5.50 5.50m-5.50 0l5.50 -5.50"/>
<path d="M434.37 437.28l5.50 5.50m-5.50 0l5.50 -5.50"/>
<path d="M435.55 436.75l5.50 5.50m-5.50 0l5.50 -5.50"/>
<path d="M434.47 436.21l5.50 5.50m-5.50 0l5.50 -5.50"/>
<path d="M435.64 435.68l5.50 5.50m-5.50 0l5.50 -5.50"/>
<path d="M434.56 435.14l5.50 5.50m-5.50 0l5.50 -5.50"/>
<path d="M435.74 434.61l5.50 5.50m-5.50 0l5.50 -5.50"/>
<path d="M436.91 434.07l5.50 5.50m-5.50 0l5.50 -5.50"/>
<path d="M435.83 433.54l5.50 5.50m-5.50 0l5.50 -5.50"/>
<path d="M437.00 433.00l5.50 5.50m-5.50 0l5.50 -5.50"/>
<path d="M435.92 432.46l5.50 5.50m-5.50 0l5.50 -5.50"/>
<path d="M437.09 431.93l5.50 5.50m-5.50 0l5.50 -5.50"/>
<path d="M438.26 431.39l5.50 5.50m-5.50 0l5.50 -5.50"/>
<path d="M437.19 430.86l5.50 5.50m-5.50 0l5.50 -5.50"/>
<path d="M438.36 430.32l5.50 5.50m-5.50 0l5.50 -5.50"/>
<path d="M437.28 429.79l5.50 5.50m-5.50 0l5.50 -5.50"/>
<path d="M438.45 429.25l5.50 5.50m-5.50 0l5.50 -5.50"/>
<path d="M439.58 428.67l5.50 5.50m-5.50 0l5.50 -5.50"/>
<path d="M438.46 428.10l5.50 5.50m-5.50 0l5.50 -5.50"/>
<path d="M439.59 427.52l5.50 5.50m-5.50 0l5.50 -5.50"/>
<path d="M438.47 426.94l5.50 5.50m-5.50 0l5.50 -5.50"/>
<path d="M439.60 426.37l5.50 5.50m-5.50 0l5.50 -5.50"/>
<path d="M440.73 425.79l5.50 5.50m-5.50 0l5.50 -5.50"/>
<path d="M439.62 425.21l5.50 5.50m-5.50 0l5.50 -5.50"/>
<path d="M440.75 424.63l5.50 5.50m-5.50 0l5.50 -5.50"/>
<path d="M439.63 424.06l5.50 5.50m-5.50 0l5.50 -5.50"/>
<path d="M440.76 423.48l5.50 5.50m-5.50 0l5.50 -5.50"/>
<path d="M441.89 422.90l5.50 5.50m-5.50 0l5.50 -5.50"/>
<path d="M440.77 422.33l5.50 5.50m-5.50 0l5.50 -5.50"/>
<path d="M441.90 421.75l5.50 5.50m-5.50 0l5.50 -5.50"/>
<path d="M440.77 421.19l5.50 5.50m-5.50 0l5.50 -5.50"/>
<path d="M441.90 420.63l5.50 5.50m-5.50 0l5.50 -5.50"/>
<path d="M443.02 420.07l5.50 5.50m-5.50 0l5.50 -5.50"/>
<path d="M441.89 419.50l5.50 5.50m-5.50 0l5.50 -5.50"/>
<path d="M443.02 418.94l5.50 5.50m-5.50 0l5.50 -5.50"/>
<path d="M441.89 418.38l5.50 5.50m-5.50 0l5.50 -5.50"/>
<path d="M443.01 417.82l5.50 5.50m-5.50 0l5.50 -5.50"/>
<path d="M444.13 417.26l5.50 5.50m-5.50 0l5.50 -5.50"/>
<path d="M443.01 416.70l5.50 5.50m-5.50 0l5.50 -5.50"/>
<path d="M444.13 416.13l5.50 5.50m-5.50 0l5.50 -5.50"/>
<path d="M443.00 415.57l5.50 5.50m-5.50 0l5.50 -5.50"/>
<path d="M444.13 415.01l5.50 5.50m-5.50 0l5.50 -5.50"/>
<path d="M445.25 414.45l5.50 5.50m-5.50 0l5.50 -5.50"/>
<path d="M444.12 413.90l5.50 5.50m-5.50 0l5.50 -5.50"/>
<path d="M445.25 413.34l5.50 5.50m-5.50 0l5.50 -5.50"/>
<path d="M444.12 412.79l5.50 5.50m-5.50 0l5.50 -5.50"/>
<path d="M445.24 412.23l5.50 5.50m-5.50 0l5.50 -5.50"/>
<path d="M446.37 411.68l5.50 5.50m-5.50 0l5.50 -5.50"/>
<path d="M445.24 411.13l5.50 5.50m-5.50 0l5.50 -5.50"/>
<path d="M446.36 410.57l5.50 5.50m-5.50 0l5.50 -5.50"/>
<path d="M445.23 410.02l5.50 5.50m-5.50 0l5.50 -5.50"/>
<path d="M446.36 409.47l5.50 5.50m-5.50 0l5.50 -5.50"/>
<path d="M447.48 408.91l5.50 5.50m-5.50 0l5.50 -5.50"/>
<path d="M446.35 408.36l5.50 5.50m-5.50 0l5.50 -5.50"/>
<path d="M447.48 407.80l5.50 5.50m-5.50 0l5.50 -5.50"/>
<path d="M446.35 407.25l5.50 5.50m-5.50 0l5.50 -5.50"/>
<path d="M447.44 406.70l5.50 5.50m-5.50 0l5.50 -5.50"/>
<path d="M448.53 406.14l5.50 5.50m-5.50 0l5.50 -5.50"/>
<path d="M447.38 405.59l5.50 5.50m-5.50 0l5.50 -5.50"/>
<path d="M448.47 405.03l5.50 5.50m-5.50 0l5.50 -5.50"/>
<path d="M447.31 404.48l5.50 5.50m-5.50 0l5.50 -5.50"/>
<path d="M448.40 403.93l5.50 5.50m-5.50 0l5.50 -5.50"/>
<path d="M449.50 403.37l5.50 5.50m-5.50 0l5.50 -5.50"/>
<path d="M448.34 402.82l5.50 5.50m-5.50 0l5.50 -5.50"/>
<path d="M449.43 402.27l5.50 5.50m-5.50 0l5.50 -5.50"/>
<path d="M448.27 401.71l5.50 5.50m-5.50 0l5.50 -5.50"/>
<path d="M449.37 401.16l5.50 5.50m-5.50 0l5.50 -5.50"/>
<path d="M450.46 400.60l5.50 5.50m-5.50 0l5.50 -5.50"/>
<path d="M449.75 400.05l5.50 5.50m-5.50 0l5.50 -5.50"/>
<path d="M489.05 321.25l5.50 5.50m-5.50 0l5.50 -5.50"/>
<path d="M500.65 286.45l5.50 5.50m-5.50 0l5.50 -5.50"/>
<path d="M501.15 287.05l5.50 5.50m-5.50 0l5.50 -5.50"/>
<path d="M510.75 274.65l5.50 5.50m-5.50 0l5.50 -5.50"/>
<path d="M511.25 275.15l5.50 5.50m-5.50 0l5.50 -5.50"/>
<path d="M521.05 264.05l5.50 5.50m-5.50 0l5.50 -5.50"/>
<path d="M530.75 239.25l5.50 5.50m-5.50 0l5.50 -5.50"/>
<path d="M541.25 223.85l5.50 5.50m-5.50 0l5.50 -5.50"/>
<path d="M552.05 205.35l5.50 5.50m-5.50 0l5.50 -5.50"/>
<path d="M561.45 193.35l5.50 5.50m-5.50 0l5.50 -5.50"/>
<path d="M561.95 193.85l5.50 5.50m-5.50 0l5.50 -5.50"/>
<path d="M571.35 192.45l5.50 5.50m-5.50 0l5.50 -5.50"/>
<path d="M582.15 161.15l5.50 5.50m-5.50 0l5.50 -5.50"/>
<path d="M582.65 161.65l5.50 5.50m-5.50 0l5.50 -5.50"/>
<path d="M592.55 164.85l5.50 5.50m-5.50 0l5.50 -5.50"/>
<path d="M603.15 142.65l5.50 5.50m-5.50 0l5.50 -5.50"/>
<path d="M612.25 119.45l5.50 5.50m-5.50 0l5.50 -5.50"/>
<path d="M612.75 119.95l5.50 5.50m-5.50 0l5.50 -5.50"/>
<path d="M734.95 69.45l5.50 5.50m-5.50 0l5.50 -5.50"/>
<path d="M735.45 69.95l5.50 5.50m-5.50 0l5.50 -5.50"/>
<path d="M745.75 65.45l5.50 5.50m-5.50 0l5.50 -5.50"/>
<path d="M746.25 65.95l5.50 5.50m-5.50 0l5.50 -5.50"/>
<path d="M766.75 85.15l5.50 5.50m-5.50 0l5.50 -5.50"/>
<path d="M775.55 113.35l5.50 5.50m-5.50 0l5.50 -5.50"/>
<path d="M816.25 224.05l5.50 5.50m-5.50 0l5.50 -5.50"/>
<path d="M826.85 252.45l5.50 5.50m-5.50 0l5.50 -5.50"/>
<path d="M827.35 252.95l5.50 5.50m-5.50 0l5.50 -5.50"/>
<path d="M837.45 277.85l5.50 5.50m-5.50 0l5.50 -5.50"/>
<path d="M847.85 302.85l5.50 5.50m-5.50 0l5.50 -5.50"/>
<path d="M848.35 303.35l5.50 5.50m-5.50 0l5.50 -5.50"/>
<path d="M857.85 329.05l5.50 5.50m-5.50 0l5.50 -5.50"/>
<path d="M898.25 386.65l5.50 5.50m-5.50 0l5.50 -5.50"/>
<path d="M898.75 387.15l5.50 5.50m-5.50 0l5.50 -5.50"/>
<path d="M910.15 400.65l5.50 5.50m-5.50 0l5.50 -5.50"/>
<path d="M919.95 423.75l5.50 5.50m-5.50 0l5.50 -5.50"/>
<path d="M930.45 423.75l5.50 5.50m-5.50 0l5.50 -5.50"/>
<path d="M938.95 436.35l5.50 5.50m-5.50 0l5.50 -5.50"/>
<path d="M939.45 436.85l5.50 5.50m-5.50 0l5.50 -5.50"/>
<path d="M980.75 450.05l5.50 5.50m-5.50 0l5.50 -5.50"/>
<path d="M991.25 471.65l5.50 5.50m-5.50 0l5.50 -5.50"/>
<path d="M1011.95 474.65l5.50 5.50m-5.50 0l5.50 -5.50"/>
<path d="M1012.45 475.15l5.50 5.50m-5.50 0l5.50 -5.50"/>
<path d="M1021.45 475.85l5.50 5.50m-5.50 0l5.50 -5.50"/>
<path d="M1062.15 486.65l5.50 5.50m-5.50 0l5.50 -5.50"/>
<path d="M1062.68 486.30l5.50 5.50m-5.50 0l5.50 -5.50"/>
<path d="M1063.20 485.95l5.50 5.50m-5.50 0l5.50 -5.50"/>
<path d="M1063.72 485.60l5.50 5.50m-5.50 0l5.50 -5.50"/>
<path d="M1064.25 485.25l5.50 5.50m-5.50 0l5.50 -5.50"/>
<path d="M1064.65 484.85l5.50 5.50m-5.50 0l5.50 -5.50"/>
<path d="M1065.05 484.45l5.50 5.50m-5.50 0l5.50 -5.50"/>
<path d="M1065.45 484.05l5.50 5.50m-5.50 0l5.50 -5.50"/>
<path d="M1065.85 483.65l5.50 5.50m-5.50 0l5.50 -5.50"/>
<path d="M1066.25 483.25l5.50 5.50m-5.50 0l5.50 -5.50"/>
<path d="M1066.78 483.05l5.50 5.50m-5.50 0l5.50 -5.50"/>
<path d="M1067.30 482.85l5.50 5.50m-5.50 0l5.50 -5.50"/>
<path d="M1067.82 482.65l5.50 5.50m-5.50 0l5.50 -5.50"/>
<path d="M1068.35 482.45l5.50 5.50m-5.50 0l5.50 -5.50"/>
<path d="M1068.93 482.57l5.50 5.50m-5.50 0l5.50 -5.50"/>
<path d="M1069.51 482.69l5.50 5.50m-5.50 0l5.50 -5.50"/>
<path d="M1070.09 482.81l5.50 5.50m-5.50 0l5.50 -5.50"/>
<path d="M1070.67 482.93l5.50 5.50m-5.50 0l5.50 -5.50"/>
<path d="M1071.25 483.05l5.50 5.50m-5.50 0l5.50 -5.50"/>
<path d="M1071.75 483.42l5.50 5.50m-5.50 0l5.50 -5.50"/>
<path d="M1072.25 483.78l5.50 5.50m-5.50 0l5.50 -5.50"/>
<path d="M1072.75 484.15l5.50 5.50m-5.50 0l5.50 -5.50"/>
<path d="M1073.25 484.52l5.50 5.50m-5.50 0l5.50 -5.50"/>
<path d="M1073.75 484.88l5.50 5.50m-5.50 0l5.50 -5.50"/>
<path d="M1074.25 485.25l5.50 5.50m-5.50 0l5.50 -5.50"/>
<path d="M1074.68 485.68l5.50 5.50m-5.50 0l5.50 -5.50"/>
<path d="M1075.11 486.11l5.50 5.50m-5.50 0l5.50 -5.50"/>
<path d="M1075.54 486.54l5.50 5.50m-5.50 0l5.50 -5.50"/>
<path d="M1075.96 486.96l5.50 5.50m-5.50 0l5.50 -5.50"/>
<path d="M1076.39 487.39l5.50 5.50m-5.50 0l5.50 -5.50"/>
<path d="M1076.82 487.82l5.50 5.50m-5.50 0l5.50 -5.50"/>
<path d="M1077.25 488.25l5.50 5.50m-5.50 0l5.50 -5.50"/>
<path d="M1077.68 488.68l5.50 5.50m-5.50 0l5.50 -5.50"/>
<path d="M1078.11 489.11l5.50 5.50m-5.50 0l5.50 -5.50"/>
<path d="M1078.54 489.54l5.50 5.50m-5.50 0l5.50 -5.50"/>
<path d="M1078.96 489.96l5.50 5.50m-5.50 0l5.50 -5.50"/>
<path d="M1079.39 490.39l5.50 5.50m-5.50 0l5.50 -5.50"/>
<path d="M1079.82 490.82l5.50 5.50m-5.50 0l5.50 -5.50"/>
<path d="M1080.25 491.25l5.50 5.50m-5.50 0l5.50 -5.50"/>
<path d="M1080.68 491.70l5.50 5.50m-5.50 0l5.50 -5.50"/>
<path d="M1081.12 492.15l5.50 5.50m-5.50 0l5.50 -5.50"/>
<path d="M1081.55 492.60l5.50 5.50m-5.50 0l5.50 -5.50"/>
<path d="M1081.98 493.05l5.50 5.50m-5.50 0l5.50 -5.50"/>
<path d="M1082.42 493.50l5.50 5.50m-5.50 0l5.50 -5.50"/>
<path d="M1082.85 493.95l5.50 5.50m-5.50 0l5.50 -5.50"/>
<path d="M1063.75 487.75l5.50 5.50m-5.50 0l5.50 -5.50"/>
<path d="M1064.45 487.35l5.50 5.50m-5.50 0l5.50 -5.50"/>
<path d="M1065.15 486.95l5.50 5.50m-5.50 0l5.50 -5.50"/>
<path d="M1065.85 486.55l5.50 5.50m-5.50 0l5.50 -5.50"/>
<path d="M1066.55 486.15l5.50 5.50m-5.50 0l5.50 -5.50"/>
<path d="M1067.25 485.75l5.50 5.50m-5.50 0l5.50 -5.50"/>
<path d="M1068.05 485.95l5.50 5.50m-5.50 0l5.50 -5.50"/>
<path d="M1068.85 486.15l5.50 5.50m-5.50 0l5.50 -5.50"/>
<path d="M1069.65 486.35l5.50 5.50m-5.50 0l5.50 -5.50"/>
<path d="M1070.45 486.55l5.50 5.50m-5.50 0l5.50 -5.50"/>
<path d="M1071.25 486.75l5.50 5.50m-5.50 0l5.50 -5.50"/>
</g>
<rect x="55.20" y="41.90" width="1079.60" height="571.95" fill="none" stroke="#000" stroke-width="1.2"/>
<rect x="61.90" y="48.10" width="215.60" height="22.80" rx="2.4" ry="2.4" fill="#fff" fill-opacity="0.8" stroke="#ccc" stroke-opacity="0.8" stroke-width="1.2"/>
<path d="M74.50 55.20l7.40 7.40M74.50 62.60l7.40 -7.40" stroke="#000080" stroke-width="1.30" fill="none"/>
<text x="101.00" y="62.70" class="t" textLength="171.00" lengthAdjust="spacingAndGlyphs">LOCAL_RELATIVE_HUMIDITY</text>
<rect x="938.60" y="48.10" width="190.30" height="22.80" rx="2.4" ry="2.4" fill="#fff" fill-opacity="0.8" stroke="#ccc" stroke-opacity="0.8" stroke-width="1.2"/>
<path d="M952.70 56.40l5.00 5.00M952.70 61.40l5.00 -5.00" stroke="#ffa500" stroke-width="1.30" fill="none"/>
<text x="977.40" y="62.70" class="t" textLength="145.40" lengthAdjust="spacingAndGlyphs">HUMIDITY_LOCAL_TEMP</text>
<text x="62.77" y="630.80" class="k kx" text-anchor="middle">23:00:00</text>
<text x="185.58" y="630.80" class="k kx" text-anchor="middle">02:00:00</text>
<text x="308.43" y="630.80" class="k kx" text-anchor="middle">05:00:00</text>
<text x="431.36" y="630.80" class="k kx" text-anchor="middle">08:00:00</text>
<text x="553.36" y="630.80" class="k kx" text-anchor="middle">11:00:00</text>
<text x="676.27" y="630.80" class="k kx" text-anchor="middle">14:00:00</text>
<text x="799.16" y="630.80" class="k kx" text-anchor="middle">17:00:00</text>
<text x="922.03" y="630.80" class="k kx" text-anchor="middle">20:00:00</text>
<text x="1044.89" y="630.80" class="k kx" text-anchor="middle">23:00:00</text>
<text x="45.87" y="591.62" class="k" text-anchor="end">0</text>
<text x="45.87" y="482.90" class="k" text-anchor="end">5</text>
<text x="45.87" y="374.21" class="k" text-anchor="end">10</text>
<text x="45.87" y="265.46" class="k" text-anchor="end">15</text>
<text x="45.87" y="156.62" class="k" text-anchor="end">20</text>
<text x="45.87" y="47.87" class="k" text-anchor="end">25</text>
<text x="1144.03" y="61.16" class="k">−10</text>
<text x="1144.03" y="138.94" class="k">−20</text>
<text x="1144.03" y="216.84" class="k">−30</text>
<text x="1144.03" y="295.42" class="k">−40</text>
<text x="1144.03" y="373.24" class="k">−50</text>
<text x="1144.03" y="450.98" class="k">−60</text>
<text x="1144.03" y="528.84" class="k">−70</text>
<text x="1144.03" y="606.84" class="k">−80</text>
<text x="595.00" y="648.70" class="t" text-anchor="middle">Time [LTST]</text>
<text x="595.00" y="34.20" class="tt" text-anchor="middle">MEDA HS calibrated RH &amp; temperature, sol 17</text>
<text transform="translate(21.90 327.88) rotate(-90)" class="t" text-anchor="middle">Relative humidity [%RH]</text>
<text transform="translate(1185.20 383.60) rotate(-90)" class="t">Temperature [<tspan font-size="7.65" dx="2.2" dy="-5.2">∘</tspan><tspan dx="2.0" dy="5.2">C]</tspan></text>
</svg>
</body>
</html>
